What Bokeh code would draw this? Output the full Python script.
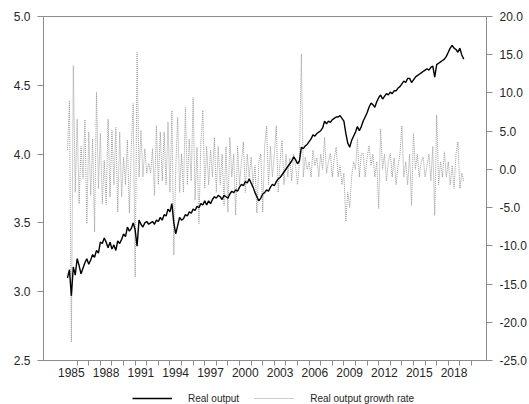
import numpy as np
from bokeh.plotting import figure
from bokeh.layouts import column
from bokeh.models import (Range1d, LinearAxis, FixedTicker, PrintfTickFormatter,
                          Legend, LegendItem)
from bokeh.embed import file_html
from bokeh.resources import INLINE

# Bimonthly observations (six per year), first one in early 1985
start_year = 1985.17
step = 1.0 / 6.0

real_output = [
    3.10, 3.16, 2.97, 3.18, 3.12, 3.24,   # 1985
    3.19, 3.13, 3.17, 3.21, 3.24, 3.20,
    3.23, 3.27, 3.25, 3.30, 3.28, 3.36,
    3.35, 3.39, 3.36, 3.32, 3.36, 3.31,
    3.34, 3.30, 3.37, 3.35, 3.38, 3.42,
    3.40, 3.47, 3.44, 3.46, 3.50, 3.45,   # 1990
    3.33, 3.52, 3.49, 3.47, 3.50, 3.51,
    3.49, 3.50, 3.51, 3.49, 3.52, 3.51,
    3.54, 3.52, 3.56, 3.55, 3.60, 3.58,
    3.64, 3.50, 3.42, 3.48, 3.54, 3.52,
    3.53, 3.56, 3.55, 3.58, 3.57, 3.60,   # 1995
    3.59, 3.62, 3.61, 3.64, 3.63, 3.66,
    3.63, 3.66, 3.64, 3.67, 3.69, 3.68,
    3.70, 3.69, 3.67, 3.70, 3.69, 3.68,
    3.71, 3.73, 3.72, 3.74, 3.73, 3.76,
    3.78, 3.77, 3.80, 3.79, 3.82, 3.79,   # 2000
    3.76, 3.72, 3.69, 3.66, 3.68, 3.71,
    3.72, 3.74, 3.73, 3.76, 3.78, 3.77,
    3.80, 3.82, 3.83, 3.85, 3.87, 3.89,
    3.91, 3.93, 3.95, 3.98, 3.96, 3.93,
    3.95, 4.05, 4.04, 4.06, 4.07, 4.09,   # 2005
    4.11, 4.14, 4.13, 4.15, 4.16, 4.17,
    4.19, 4.24, 4.22, 4.24, 4.23, 4.25,
    4.26, 4.27, 4.27, 4.28, 4.26, 4.24,
    4.15, 4.08, 4.05, 4.10, 4.13, 4.16,
    4.20, 4.17, 4.20, 4.24, 4.27, 4.30,   # 2010
    4.34, 4.37, 4.36, 4.34, 4.38, 4.41,
    4.43, 4.40, 4.42, 4.44, 4.43, 4.45,
    4.44, 4.46, 4.46, 4.48, 4.49, 4.51,
    4.53, 4.52, 4.55, 4.55, 4.52, 4.54,
    4.56, 4.57, 4.58, 4.59, 4.60, 4.61,   # 2015
    4.62, 4.61, 4.63, 4.64, 4.56, 4.65,
    4.66, 4.67, 4.68, 4.69, 4.71, 4.74,
    4.77, 4.79, 4.77, 4.76, 4.74, 4.77,
    4.72, 4.69,
]

growth_rate = [
    2.5, 9.0, -22.6, 13.6, -3.0, 6.6,     # 1985
    -4.5, 3.0, -1.2, 6.5, -7.1, 4.9,
    -3.4, 4.0, -8.2, 10.1, -2.5, 4.7,
    -4.5, 1.2, -4.6, 6.6, -3.6, 5.1,
    -2.0, 5.5, -5.6, 4.9, -3.6, 1.6,
    -2.0, 3.8, -5.7, 2.9, 8.6, -14.1,     # 1990
    15.3, -1.0, 5.1, -1.0, 2.7, -0.5,
    0.8, -0.5, 2.7, -3.4, 5.7, -2.0,
    4.9, -1.5, 4.9, -2.0, 6.2, -3.0,
    7.7, -11.2, 0.1, 6.8, -3.0, 2.0,
    -3.0, 8.1, -2.0, 4.0, -1.5, 9.4,      # 1995
    -4.0, 2.9, -7.1, 3.5, 7.7, -2.5,
    3.0, -2.0, 2.5, -1.0, 4.2, -3.0,
    3.0, -2.0, 2.0, -4.7, 3.0, -5.6,
    4.2, -1.0, 2.0, -6.0, 3.0, -2.0,
    1.0, 3.6, -3.0, 2.0, -1.0, 1.6,       # 2000
    -2.0, 0.5, -5.7, 1.0, 2.0, -5.6,
    3.0, 5.7, -2.0, 3.0, -1.0, 2.0,
    5.7, -3.0, 1.0, 3.8, -2.0, 2.0,
    -1.0, 1.5, -1.5, 2.0, 0.5, -2.0,
    1.0, 15.1, -1.0, 1.6, 0.0, 1.0,       # 2005
    -1.0, 2.5, 0.5, 1.5, -1.0, 2.0,
    0.0, 4.2, -0.5, 1.0, 2.1, -1.0,
    1.5, 2.9, -1.0, 0.5, -2.0, -0.5,
    -6.8, -3.0, -5.0, -1.0, 1.0, 0.0,
    4.0, -1.0, 2.0, 2.1, -1.0, 1.5,       # 2010
    3.1, 0.5, 2.0, -1.0, 1.0, -5.1,
    5.3, 0.0, 2.0, -1.5, 1.0, 2.1,
    -1.0, 1.5, -2.0, 0.5, 2.0, 5.7,
    -1.0, 1.0, -2.0, 2.0, -4.7, 4.7,
    0.0, 2.0, -1.0, 1.0, 1.6, -1.0,       # 2015
    0.5, 2.0, -1.5, 3.0, -6.0, 7.1,
    -2.0, 1.0, -1.0, 2.3, -1.0, 1.0,
    -2.0, 0.5, -2.5, 2.0, 3.6, -2.5,
    -0.5, -1.5,
]

label_years = list(range(1985, 2019, 3))
tick_years = list(range(1986, 2021))

x = start_year + step * np.arange(len(real_output))
xg = start_year + step * np.arange(len(growth_rate))

FONT = "Liberation Sans"
AXIS_GREY = "#8c8c8c"
TEXT = "#262626"
OUTPUT_STYLE = dict(line_color="black", line_width=1.4)
GROWTH_STYLE = dict(line_color="#9a9a9a", line_width=1, line_dash="1 1")

p = figure(width=529, height=380, output_backend="svg", toolbar_location=None,
           x_range=Range1d(1983.1, 2021.3), y_range=Range1d(2.5, 5.0),
           min_border_left=43, min_border_right=41, min_border_top=16,
           min_border_bottom=20)
p.extra_y_ranges = {"growth": Range1d(-25, 20)}
p.grid.visible = False
p.outline_line_color = AXIS_GREY

p.line(xg, growth_rate, y_range_name="growth", **GROWTH_STYLE)
p.line(x, real_output, **OUTPUT_STYLE)

# bottom axis: year boundaries as ticks, labels centred in their year
xa = p.xaxis[0]
xa.ticker = FixedTicker(ticks=[y + 0.5 for y in label_years], minor_ticks=tick_years)
xa.major_label_overrides = {y + 0.5: str(y) for y in label_years}
xa.major_tick_out = 0
xa.major_tick_in = 0
xa.minor_tick_out = 5
xa.minor_tick_in = 0
xa.major_label_standoff = 2

ya = p.yaxis[0]
ya.ticker = FixedTicker(ticks=[2.5, 3.0, 3.5, 4.0, 4.5, 5.0])
ya.formatter = PrintfTickFormatter(format="%.1f")
ya.major_tick_out = 6
ya.major_tick_in = 0
ya.minor_tick_out = 0
ya.minor_tick_in = 0
ya.major_label_standoff = 7

yr = LinearAxis(y_range_name="growth",
                ticker=FixedTicker(ticks=list(range(-25, 25, 5))),
                formatter=PrintfTickFormatter(format="%.1f"))
yr.major_tick_out = 6
yr.major_tick_in = 0
yr.minor_tick_out = 0
yr.minor_tick_in = 0
yr.major_label_standoff = 7
p.add_layout(yr, "right")

for ax in (xa, ya, yr):
    ax.axis_line_color = AXIS_GREY
    ax.major_tick_line_color = AXIS_GREY
    ax.minor_tick_line_color = AXIS_GREY
    ax.major_label_text_font = FONT
    ax.major_label_text_font_size = "12px"
    ax.major_label_text_color = TEXT

# legend strip underneath the chart; its sample lines sit off-range
leg = figure(width=529, height=24, output_backend="svg", toolbar_location=None,
             x_range=Range1d(0, 1), y_range=Range1d(0, 1),
             x_axis_location=None, y_axis_location=None, min_border=0)
leg.grid.visible = False
leg.outline_line_color = None
r_out = leg.line([-5, -4], [-5, -4], **OUTPUT_STYLE)
r_gr = leg.line([-5, -4], [-5, -4], **GROWTH_STYLE)
legend = Legend(items=[LegendItem(label="Real output", renderers=[r_out]),
                       LegendItem(label="Real output growth rate", renderers=[r_gr])],
                orientation="horizontal", location=(89, 0),
                glyph_width=40, glyph_height=12, label_height=12,
                label_standoff=16, spacing=15, padding=0, margin=0,
                border_line_color=None, background_fill_alpha=0,
                label_text_font=FONT, label_text_font_size="10px",
                label_text_color=TEXT)
leg.add_layout(legend, "center")

layout = column(p, leg, spacing=0)
open("out.html", "w").write(file_html(layout, INLINE))
